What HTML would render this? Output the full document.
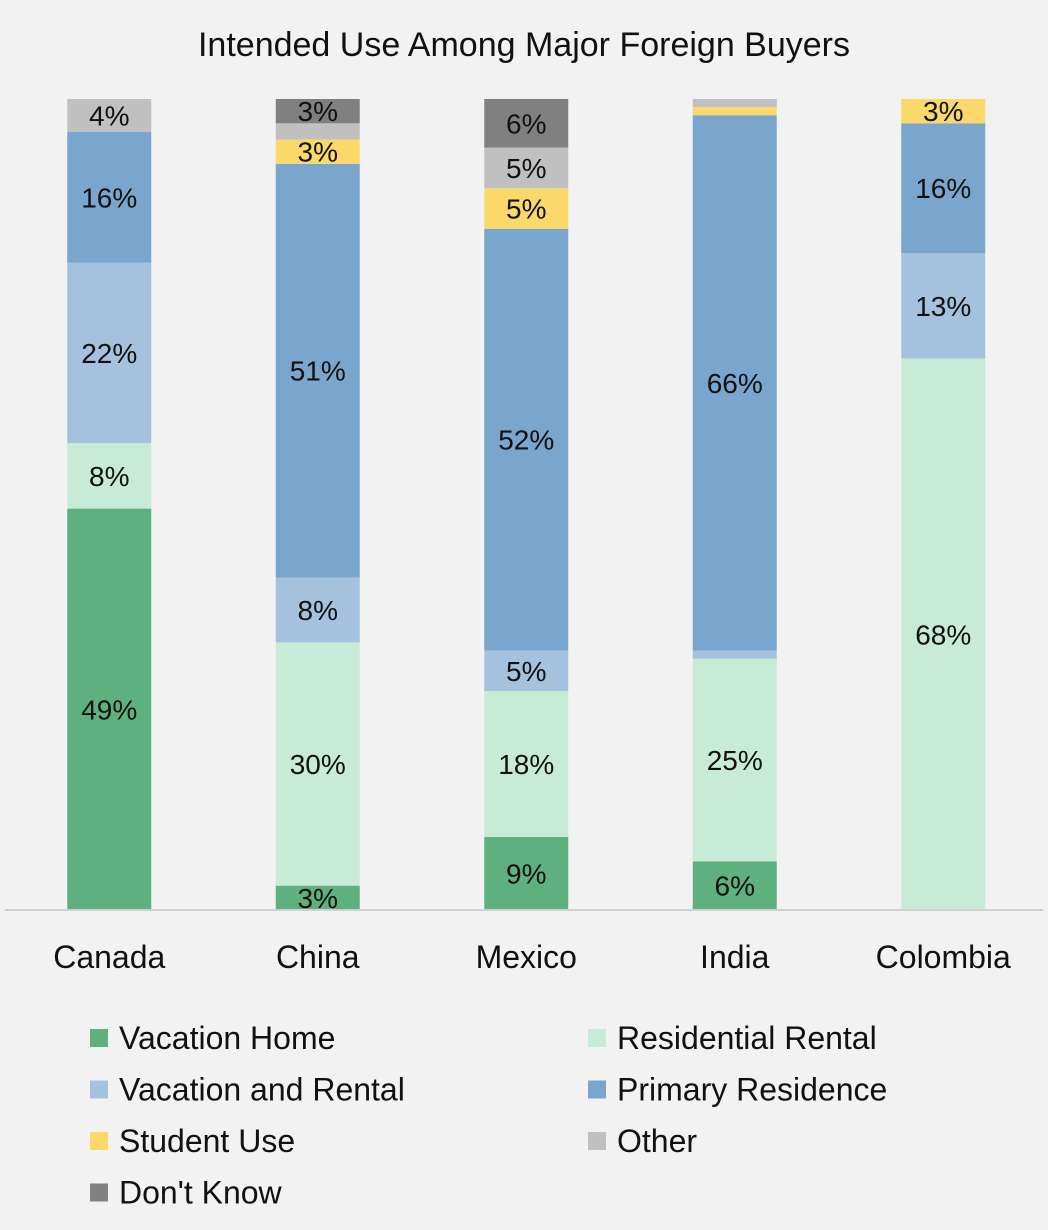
<!DOCTYPE html>
<html><head><meta charset="utf-8"><style>
html,body{margin:0;padding:0;background:#f2f2f2;}
svg{display:block;font-family:"Liberation Sans",sans-serif;}
</style></head><body>
<svg width="1048" height="1230" viewBox="0 0 1048 1230">
<rect x="0" y="0" width="1048" height="1230" fill="#f2f2f2"/>
<text x="524" y="56" text-anchor="middle" font-size="34" fill="#111">Intended Use Among Major Foreign Buyers</text>
<g id="bars"></g>
<line x1="5" y1="910" x2="1043" y2="910" stroke="#d0d0d0" stroke-width="2"/>
<g id="xlabels"></g>
<g id="legend"></g>
</svg>
<script>
const categories = ["Canada","China","Mexico","India","Colombia"];
const seriesNames = ["Vacation Home","Residential Rental","Vacation and Rental","Primary Residence","Student Use","Other","Don't Know"];
const vacationHome = [49,3,9,6,0];
const residentialRental = [8,30,18,25,68];
const vacationAndRental = [22,8,5,1,13];
const primaryResidence = [16,51,52,66,16];
const studentUse = [0,3,5,1,3];
const other = [4,2,5,1,0];
const dontKnow = [0,3,6,0,0];
const series = [vacationHome,residentialRental,vacationAndRental,primaryResidence,studentUse,other,dontKnow];
const colors = ["#5eb17f","#c8ebd7","#a4c2dd","#7aa5cd","#fad96a","#c0c0c0","#808080"];
const NS="http://www.w3.org/2000/svg";
const plotTop=99, plotBottom=910, x0=5, bandW=208.5, barW=84;
function xCenter(i){return x0+bandW*(i+0.5);}
function yScale(frac){return plotBottom-(plotBottom-plotTop)*frac;}
const barsG=document.getElementById('bars');
const xl=document.getElementById('xlabels');
categories.forEach((c,i)=>{
  let total=0; series.forEach(s=>total+=s[i]);
  let cum=0;
  series.forEach((s,k)=>{
    const v=s[i]; if(v<=0) return;
    const y1=yScale(cum/total), y2=yScale((cum+v)/total);
    const r=document.createElementNS(NS,'rect');
    r.setAttribute('x',xCenter(i)-barW/2);r.setAttribute('y',y2);
    r.setAttribute('width',barW);r.setAttribute('height',y1-y2);
    r.setAttribute('fill',colors[k]);
    
    
    barsG.appendChild(r);
    if(v>=3){
      const t=document.createElementNS(NS,'text');
      t.setAttribute('x',xCenter(i));t.setAttribute('y',(y1+y2)/2+10);
      t.setAttribute('text-anchor','middle');t.setAttribute('font-size','28');t.setAttribute('fill','#111');
      t.textContent=v+'%';
      
      
      barsG.appendChild(t);
    }
    cum+=v;
  });
  const t=document.createElementNS(NS,'text');
  t.setAttribute('x',xCenter(i));t.setAttribute('y',968);
  t.setAttribute('text-anchor','middle');t.setAttribute('font-size','32');t.setAttribute('fill','#111');
  t.textContent=c;
  
  
  xl.appendChild(t);
});
const lg=document.getElementById('legend');
seriesNames.forEach((n,k)=>{
  const col=k%2, row=Math.floor(k/2);
  const mx=col?588:90, ty=1038+row*51.5;
  const r=document.createElementNS(NS,'rect');
  r.setAttribute('x',mx);r.setAttribute('y',ty-9);r.setAttribute('width',18);r.setAttribute('height',18);
  r.setAttribute('fill',colors[k]);
  
  
  lg.appendChild(r);
  const t=document.createElementNS(NS,'text');
  t.setAttribute('x',mx+29);t.setAttribute('y',ty+11);t.setAttribute('font-size','32');t.setAttribute('fill','#111');
  t.textContent=n;
  
  
  lg.appendChild(t);
});
</script>
</body></html>
